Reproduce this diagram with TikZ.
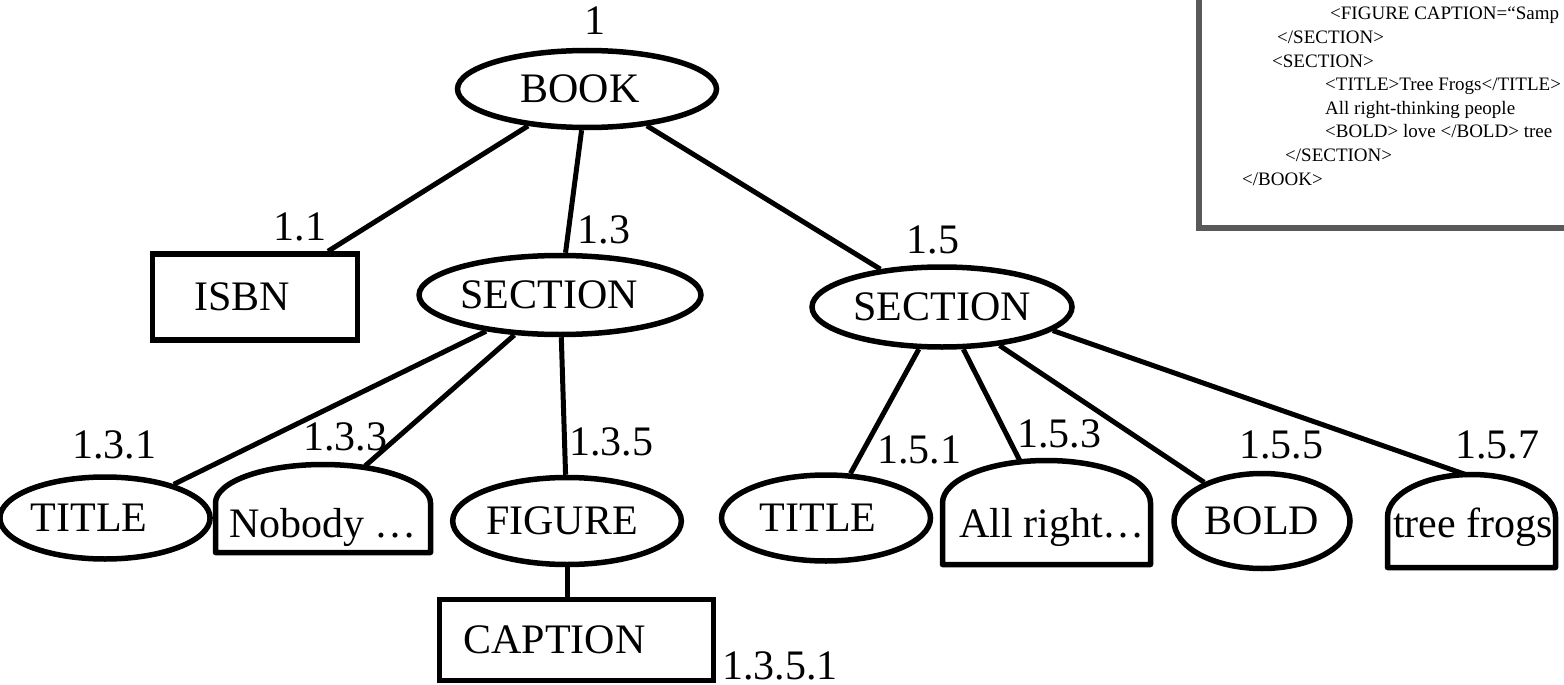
\documentclass[tikz,border=0pt]{standalone}
\usepackage{fontspec}
\setmainfont{Liberation Serif}
\usetikzlibrary{shapes.geometric}
\tikzset{
  bigtext/.style={font=\fontsize{42}{50}\selectfont},
  ell/.style={ellipse, draw, line width=5.5pt, inner sep=0pt, bigtext},
  rectbox/.style={rectangle, draw, line width=5.5pt, inner sep=0pt, bigtext},
  txtonly/.style={inner sep=0pt, bigtext},
  num/.style={inner sep=0pt, anchor=base, bigtext},
  conn/.style={line width=5pt},
  domeline/.style={line width=5.5pt, line join=round},
  xmltext/.style={inner sep=0pt, anchor=base west, font=\fontsize{19}{23}\selectfont},
  xmlframe/.style={line width=6pt, draw=black!65, fill=white}
}
\begin{document}
\begin{tikzpicture}[x=1pt,y=-1pt]
\useasboundingbox (0,0) rectangle (1564,685);
\clip (0,0) rectangle (1564,685);

% XML listing box
\draw[xmlframe] (1199,-20) rectangle (1600,228);
\node[xmltext] (x1) at (1330,20) {<FIGURE CAPTION=“Samp};
\node[xmltext] (x2) at (1277,43.6) {</SECTION>};
\node[xmltext] (x3) at (1272,67.1) {<SECTION>};
\node[xmltext] (x4) at (1325,90.7) {<TITLE>Tree Frogs</TITLE>};
\node[xmltext] (x5) at (1325,114.3) {All right-thinking people};
\node[xmltext] (x6) at (1325,137.9) {<BOLD> love </BOLD> tree};
\node[xmltext] (x7) at (1285,161.4) {</SECTION>};
\node[xmltext] (x8) at (1242,185) {</BOOK>};

% tree nodes
\node[ell, minimum width=259pt, minimum height=77pt] (book) at (587,89) {BOOK\hspace*{14pt}};
\node[rectbox, minimum width=205pt, minimum height=86pt] (isbn) at (255,297) {ISBN\hspace*{26pt}};
\node[ell, minimum width=267pt, minimum height=79pt] (sec1) at (560,295) {SECTION\hspace*{22pt}};
\node[ell, minimum width=260pt, minimum height=80pt] (sec2) at (942,307) {SECTION};
\node[ell, minimum width=179pt, minimum height=82pt] (tit1) at (105,518) {TITLE\hspace*{32pt}};
\node[ell, minimum width=222pt, minimum height=87pt] (fig) at (567,521) {FIGURE\hspace*{10pt}};
\node[rectbox, minimum width=274pt, minimum height=81pt] (cap) at (576.5,640) {CAPTION\hspace*{44pt}};
\node[ell, minimum width=209pt, minimum height=86pt] (tit2) at (826,518) {TITLE\hspace*{16pt}};
\node[ell, minimum width=176pt, minimum height=95pt] (bold) at (1262,521) {BOLD};

% dome-shaped text nodes
\node[txtonly, anchor=base] (nob) at (323,537) {Nobody …};
\node[txtonly, anchor=base] (allr) at (1052,537) {All right…};
\node[txtonly, anchor=base] (tf) at (1473,537) {tree frogs};
\draw[domeline] (215.5,552.5) -- (215.5,503) arc[start angle=180,end angle=0,x radius=107.5pt,y radius=38.5pt] -- (430.5,552.5) -- cycle;
\draw[domeline] (942.5,564.5) -- (942.5,503) arc[start angle=180,end angle=0,x radius=104pt,y radius=42.5pt] -- (1150.5,564.5) -- cycle;
\draw[domeline] (1387.5,567.5) -- (1387.5,517) arc[start angle=180,end angle=0,x radius=84pt,y radius=42.5pt] -- (1555.5,567.5) -- cycle;
\coordinate (nobtop) at (365,466);
\coordinate (allrtop) at (1020,461);
\coordinate (tftop) at (1467,475);

% connectors
\draw[conn] (book) -- (isbn);
\draw[conn] (book) -- (sec1);
\draw[conn] (book) -- (sec2);
\draw[conn] (sec1) -- (tit1);
\draw[conn] (sec1) -- (nobtop);
\draw[conn] (sec1) -- (fig);
\draw[conn] (fig.south) -- (fig.south |- cap.north);
\draw[conn] (sec2) -- (tit2);
\draw[conn] (sec2) -- (allrtop);
\draw[conn] (sec2) -- (bold);
\draw[conn] (sec2.-12) -- (tftop);

% Dewey-style numbers
\node[num] (n1) at (595,35) {1};
\node[num] (n11) at (300,240) {1.1};
\node[num] (n13) at (604,243) {1.3};
\node[num] (n15) at (933,253) {1.5};
\node[num] (n131) at (114,458) {1.3.1};
\node[num] (n133) at (345,450) {1.3.3};
\node[num] (n135) at (611,455) {1.3.5};
\node[num, anchor=base west] (n1351) at (722,679) {1.3.5.1};
\node[num] (n151) at (919,463) {1.5.1};
\node[num] (n153) at (1059,447) {1.5.3};
\node[num] (n155) at (1281,458) {1.5.5};
\node[num] (n157) at (1497,458) {1.5.7};
\end{tikzpicture}
\end{document}
